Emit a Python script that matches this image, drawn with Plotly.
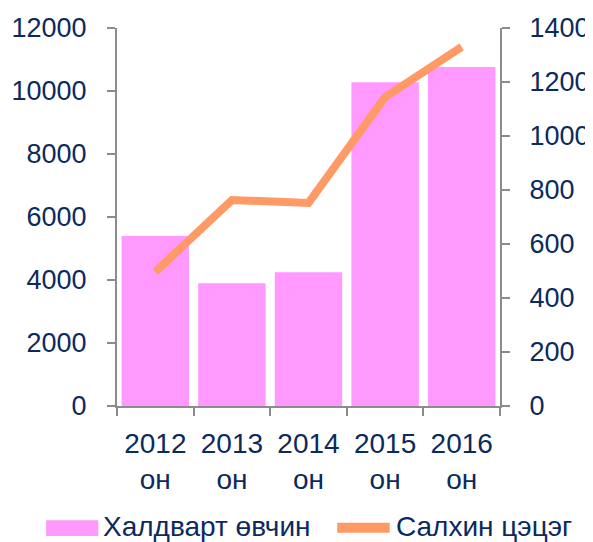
import plotly.graph_objects as go

years = ["2012", "2013", "2014", "2015", "2016"]
categories = [y + "<br>он" for y in years]
infectious = [5400, 3900, 4250, 10280, 10760]
wind_points = [497, 763, 752, 1144, 1330]

bar_name = "Халдварт өвчин"
line_name = "Салхин цэцэг"

navy = "#0B2A5E"
gray = "#8C8C8C"
pink = "#FF99FF"
orange = "#FF9966"
font = "Liberation Sans, Arial, sans-serif"

fig = go.Figure()
fig.add_trace(go.Bar(x=categories, y=infectious, name=bar_name,
                     marker=dict(color=pink, line=dict(width=0)), showlegend=False))
fig.add_trace(go.Scatter(x=categories, y=wind_points, name=line_name, yaxis="y2",
                         mode="lines", line=dict(color=orange, width=8), showlegend=False))

axis_common = dict(showgrid=False, zeroline=False, showline=True, linecolor=gray, linewidth=2,
                   ticks="outside", ticklen=8, tickcolor=gray, tickwidth=2, automargin=False)
tick_font = dict(family=font, size=28, color=navy)
ytick_font = dict(family=font, size=27, color=navy)

# page body has an 8px margin, so the figure is sized/placed to compensate
fig.update_layout(
    width=585, height=534,
    margin=dict(l=109, r=93, t=20, b=136),
    plot_bgcolor="white", paper_bgcolor="white",
    bargap=0.12,
    xaxis=dict(**axis_common, tickfont=tick_font, tickson="boundaries", ticklabelstandoff=11),
    yaxis=dict(**axis_common, tickfont=ytick_font, range=[0, 12000], dtick=2000, tickformat="d",
               ticklabelstandoff=15),
    yaxis2=dict(**axis_common, tickfont=ytick_font, range=[0, 1400], dtick=200, tickformat="d",
                overlaying="y", side="right", ticklabelstandoff=14),
)

# manual legend
fig.add_shape(type="rect", xref="paper", yref="paper", x0=-0.185, x1=-0.049, y0=-0.344, y1=-0.302,
              fillcolor=pink, line=dict(width=0))
fig.add_annotation(xref="paper", yref="paper", x=-0.042, y=-0.32, xanchor="left", yanchor="middle",
                   text=bar_name, showarrow=False, font=dict(family=font, size=28, color=navy))
fig.add_shape(type="line", xref="paper", yref="paper", x0=0.575, x1=0.712, y0=-0.322, y1=-0.322,
              line=dict(color=orange, width=10))
fig.add_annotation(xref="paper", yref="paper", x=0.724, y=-0.32, xanchor="left", yanchor="middle",
                   text=line_name, showarrow=False, font=dict(family=font, size=28, color=navy))

fig.write_html("out.html")
